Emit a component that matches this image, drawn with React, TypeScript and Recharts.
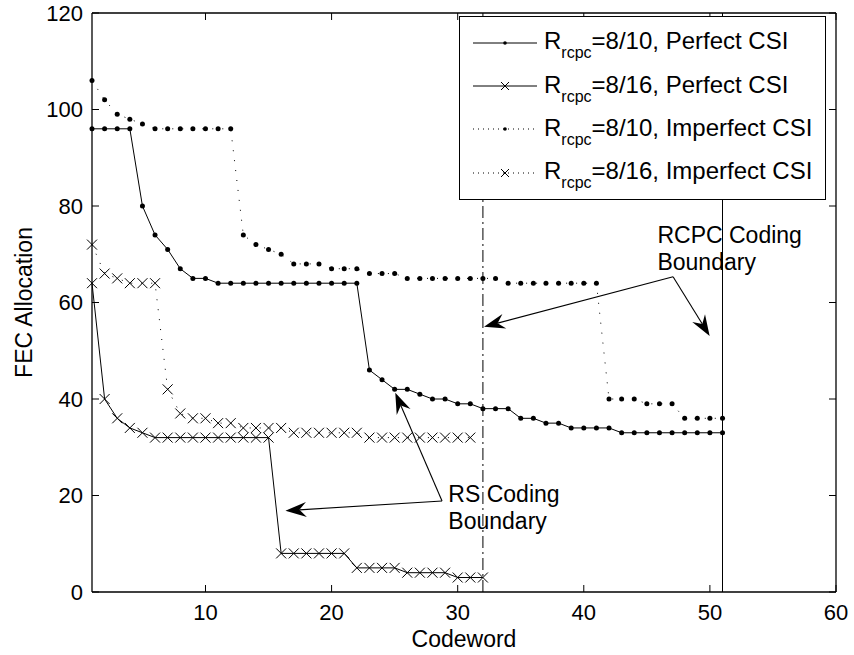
import React from "react";
import { LineChart, Line, XAxis, YAxis, ReferenceLine, ReferenceDot, Legend, Label } from "recharts";

// codeword index (x) for every point
const codewords = [
  1, 2, 3, 4, 5, 6, 7, 8, 9, 10, 11, 12, 13, 14, 15, 16, 17, 18, 19, 20, 21, 22, 23, 24, 25, 26,
  27, 28, 29, 30, 31, 32, 33, 34, 35, 36, 37, 38, 39, 40, 41, 42, 43, 44, 45, 46, 47, 48, 49, 50, 51,
];

// R_rcpc = 8/10, perfect CSI
const perfect810 = [
  96, 96, 96, 96, 80, 74, 71, 67, 65, 65, 64, 64, 64, 64, 64, 64, 64, 64, 64, 64, 64, 64, 46, 44, 42, 42,
  41, 40, 40, 39, 39, 38, 38, 38, 36, 36, 35, 35, 34, 34, 34, 34, 33, 33, 33, 33, 33, 33, 33, 33, 33,
];
// R_rcpc = 8/16, perfect CSI
const perfect816 = [
  64, 40, 36, 34, 33, 32, 32, 32, 32, 32, 32, 32, 32, 32, 32, 8, 8, 8, 8, 8, 8, 5, 5, 5, 5, 4, 4, 4, 4,
  3, 3, 3,
];
// R_rcpc = 8/10, imperfect CSI
const imperfect810 = [
  106, 102, 99, 98, 97, 96, 96, 96, 96, 96, 96, 96, 74, 72, 71, 70, 68, 68, 68, 67, 67, 67, 66, 66, 66,
  65, 65, 65, 65, 65, 65, 65, 65, 64, 64, 64, 64, 64, 64, 64, 64, 40, 40, 40, 39, 39, 39, 36, 36, 36, 36,
];
// R_rcpc = 8/16, imperfect CSI
const imperfect816 = [
  72, 66, 65, 64, 64, 64, 42, 37, 36, 36, 35, 35, 34, 34, 34, 34, 33, 33, 33, 33, 33, 33, 32, 32, 32,
  32, 32, 32, 32, 32, 32,
];

const xTicks = [10, 20, 30, 40, 50, 60];
const yTicks = [0, 20, 40, 60, 80, 100, 120];
const rsBoundary = 32;
const rcpcBoundary = 51;

// annotation anchors in data units
const rsText = { x: 29.26, y: 18.65, lines: ["RS Coding", "Boundary"] };
const rsArrowTail = { x: 28.76, y: 18.86 };
const rsArrowTips = [
  { x: 16.34, y: 16.85 },
  { x: 25.05, y: 41.3 },
];
const rcpcText = { x: 45.84, y: 72.3, lines: ["RCPC Coding", "Boundary"] };
const rcpcArrowTail = { x: 47.08, y: 65.35 };
const rcpcArrowTips = [
  { x: 32.09, y: 54.98 },
  { x: 49.98, y: 53.06 },
];

const W = 854;
const H = 655;
const M_TOP = 13;
const M_RIGHT = 18;
const Y_AXIS_W = 92;
const X_AXIS_H = 63;
const PLOT_TOP = M_TOP;
const PLOT_RIGHT = W - M_RIGHT;
const FONT = '"Liberation Sans", Arial, Helvetica, sans-serif';
const TICK = 7;

function toPoints(values: number[]) {
  return values.map((v, i) => ({ x: codewords[i], y: v }));
}

function XTick(props: any) {
  const { x, y, payload } = props;
  return (
    <g>
      <line x1={x} y1={y} x2={x} y2={y - TICK} stroke="#000" strokeWidth={1} />
      <line x1={x} y1={PLOT_TOP} x2={x} y2={PLOT_TOP + TICK} stroke="#000" strokeWidth={1} />
      <text x={x} y={y + 28} textAnchor="middle" fontSize={22} fill="#000">
        {payload.value}
      </text>
    </g>
  );
}

function YTick(props: any) {
  const { x, y, payload } = props;
  return (
    <g>
      <line x1={x} y1={y} x2={x + TICK} y2={y} stroke="#000" strokeWidth={1} />
      <line x1={PLOT_RIGHT} y1={y} x2={PLOT_RIGHT - TICK} y2={y} stroke="#000" strokeWidth={1} />
      <text x={x - 9} y={y + 7.9} textAnchor="end" fontSize={22} fill="#000">
        {payload.value}
      </text>
    </g>
  );
}

function dotMarker(props: any) {
  const { cx, cy, index } = props;
  return <circle key={`d${index}`} cx={cx} cy={cy} r={2.5} fill="#000" stroke="none" />;
}

function crossMarker(props: any) {
  const { cx, cy, index } = props;
  const s = 5;
  return (
    <path
      key={`c${index}`}
      d={`M${cx - s},${cy - s}L${cx + s},${cy + s}M${cx - s},${cy + s}L${cx + s},${cy - s}`}
      stroke="#000"
      strokeWidth={1}
      fill="none"
    />
  );
}

function arrowShape(props: any) {
  const { x1, y1, x2, y2 } = props;
  const dx = x2 - x1;
  const dy = y2 - y1;
  const len = Math.hypot(dx, dy) || 1;
  const ux = dx / len;
  const uy = dy / len;
  const px = -uy;
  const py = ux;
  const L = 21;
  const Wd = 7.5;
  const N = 14;
  const bx = x2 - ux * L;
  const by = y2 - uy * L;
  const nx = x2 - ux * N;
  const ny = y2 - uy * N;
  return (
    <g>
      <line x1={x1} y1={y1} x2={nx} y2={ny} stroke="#000" strokeWidth={1.1} />
      <path
        d={`M${x2},${y2}L${bx + px * Wd},${by + py * Wd}L${nx},${ny}L${bx - px * Wd},${by - py * Wd}Z`}
        fill="#000"
        stroke="none"
      />
    </g>
  );
}

function textShape(lines: string[]) {
  return (props: any) => {
    const { cx, cy } = props;
    return (
      <text x={cx} y={cy} fontSize={23} fill="#000" textAnchor="start">
        {lines.map((l, i) => (
          <tspan key={l} x={cx} dy={i === 0 ? 0 : 26.5}>
            {l}
          </tspan>
        ))}
      </text>
    );
  };
}

const legendItems = [
  { rate: "8/10", csi: "Perfect CSI", marker: "dot", dash: undefined },
  { rate: "8/16", csi: "Perfect CSI", marker: "cross", dash: undefined },
  { rate: "8/10", csi: "Imperfect CSI", marker: "dot", dash: "1 4" },
  { rate: "8/16", csi: "Imperfect CSI", marker: "cross", dash: "1 4" },
];

function LegendBox() {
  return (
    <div
      style={{
        width: 367,
        height: 184,
        border: "1.3px solid #000",
        background: "#fff",
        boxSizing: "border-box",
        paddingTop: 4,
        fontFamily: FONT,
        color: "#000",
      }}
    >
      {legendItems.map((it, i) => (
        <div key={i} style={{ display: "flex", alignItems: "center", height: 43.4 }}>
          <svg width={80} height={20} style={{ display: "block" }}>
            <line x1={13} y1={10} x2={77} y2={10} stroke="#000" strokeWidth={1} strokeDasharray={it.dash} />
            {it.marker === "dot" ? (
              <circle cx={45} cy={10} r={1.8} fill="#000" />
            ) : (
              <path d="M41,6L49,14M41,14L49,6" stroke="#000" strokeWidth={1} />
            )}
          </svg>
          <span style={{ fontSize: 24, marginLeft: 4, whiteSpace: "nowrap", lineHeight: "28px" }}>
            R
            <span style={{ fontSize: 16, position: "relative", top: 9 }}>rcpc</span>={it.rate}, {it.csi}
          </span>
        </div>
      ))}
    </div>
  );
}

export default function App() {
  return (
    <div style={{ position: "absolute", left: 0, top: 0, width: W, height: H, background: "#fff", fontFamily: FONT }}>
      <LineChart width={W} height={H} margin={{ top: M_TOP, right: M_RIGHT, left: 0, bottom: 0 }}>
        <XAxis
          type="number"
          dataKey="x"
          domain={[1, 60]}
          ticks={xTicks}
          interval={0}
          height={X_AXIS_H}
          tickSize={0}
          tickMargin={0}
          tickLine={false}
          axisLine={{ stroke: "#000", strokeWidth: 1.3 }}
          tick={<XTick />}
        >
          <Label value="Codeword" position="insideBottom" offset={8} fontSize={23} fill="#000" />
        </XAxis>
        <YAxis
          type="number"
          dataKey="y"
          domain={[0, 120]}
          ticks={yTicks}
          interval={0}
          width={Y_AXIS_W}
          tickSize={0}
          tickMargin={0}
          tickLine={false}
          axisLine={{ stroke: "#000", strokeWidth: 1.3 }}
          tick={<YTick />}
        >
          <Label
            content={(p: any) => {
              const vb = p.viewBox || {};
              const cx = vb.x + 31.5;
              const cy = vb.y + vb.height / 2;
              return (
                <text
                  x={cx}
                  y={cy}
                  transform={`rotate(-90, ${cx}, ${cy})`}
                  textAnchor="middle"
                  fontSize={23}
                  fill="#000"
                >
                  FEC Allocation
                </text>
              );
            }}
          />
        </YAxis>

        <ReferenceLine y={120} stroke="#000" strokeWidth={1.3} />
        <ReferenceLine x={60} stroke="#000" strokeWidth={1.3} />
        <ReferenceLine x={rsBoundary} stroke="#000" strokeWidth={1} strokeDasharray="12 4 2 4" />
        <ReferenceLine x={rcpcBoundary} stroke="#000" strokeWidth={1} />

        <Line
          data={toPoints(perfect810)}
          dataKey="y"
          type="linear"
          stroke="#000"
          strokeWidth={1}
          dot={dotMarker}
          activeDot={false}
          isAnimationActive={false}
        />
        <Line
          data={toPoints(perfect816)}
          dataKey="y"
          type="linear"
          stroke="#000"
          strokeWidth={1}
          dot={crossMarker}
          activeDot={false}
          isAnimationActive={false}
        />
        <Line
          data={toPoints(imperfect810)}
          dataKey="y"
          type="linear"
          stroke="#000"
          strokeWidth={1}
          strokeDasharray="1 9"
          dot={dotMarker}
          activeDot={false}
          isAnimationActive={false}
        />
        <Line
          data={toPoints(imperfect816)}
          dataKey="y"
          type="linear"
          stroke="#000"
          strokeWidth={1}
          strokeDasharray="1 9"
          dot={crossMarker}
          activeDot={false}
          isAnimationActive={false}
        />

        {rsArrowTips.map((t, i) => (
          <ReferenceLine key={`rs${i}`} segment={[rsArrowTail, t]} shape={arrowShape} />
        ))}
        {rcpcArrowTips.map((t, i) => (
          <ReferenceLine key={`rc${i}`} segment={[rcpcArrowTail, t]} shape={arrowShape} />
        ))}
        <ReferenceDot x={rsText.x} y={rsText.y} r={0} shape={textShape(rsText.lines)} />
        <ReferenceDot x={rcpcText.x} y={rcpcText.y} r={0} shape={textShape(rcpcText.lines)} />

        <Legend
          layout="vertical"
          align="center"
          verticalAlign="middle"
          content={<LegendBox />}
          wrapperStyle={{ position: "absolute", left: 459, top: 16, width: 367, height: 184 }}
        />
      </LineChart>
    </div>
  );
}
